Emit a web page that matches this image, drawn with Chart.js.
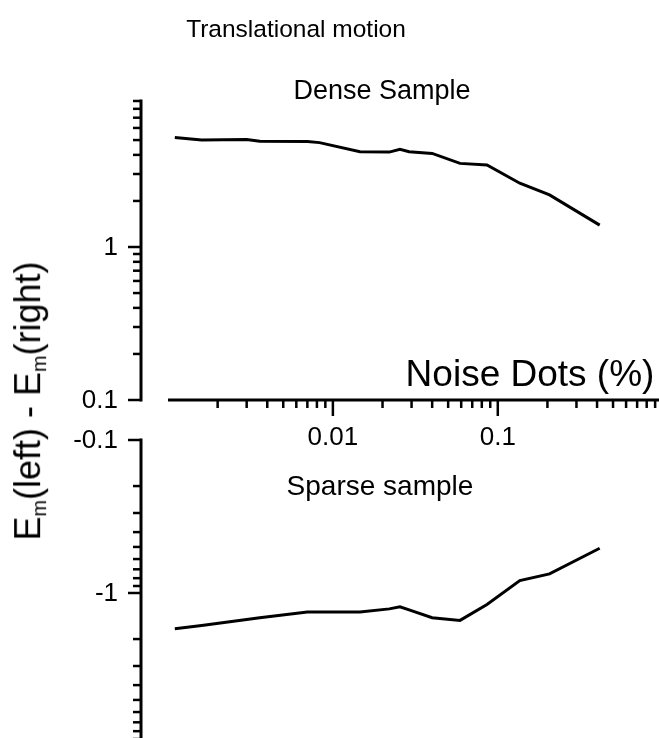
<!DOCTYPE html>
<html>
<head>
<meta charset="utf-8">
<script src="https://cdn.jsdelivr.net/npm/chart.js@4.4.1/dist/chart.umd.min.js"></script>
<style>
  body { margin: 0; background: #fff; }
  #wrap { position: relative; width: 659px; height: 738px; overflow: hidden; font-family: "Liberation Sans", Arial, sans-serif; color: #000; }
  .box { position: absolute; left: 0; width: 659px; }
  .lbl { position: absolute; white-space: nowrap; line-height: 1; transform: translate(-50%, -50%); }
  #yTitle { transform: translate(-50%, -50%) rotate(-90deg); }
  #yTitle sub { font-size: 55%; vertical-align: -0.3em; }
</style>
</head>
<body>
<div id="wrap">
  <div class="box" style="top:0;height:460px"><canvas id="denseChart"></canvas></div>
  <div class="box" style="top:420px;height:326px"><canvas id="sparseChart"></canvas></div>
  <div class="lbl" style="left:296px;top:29px;font-size:24.5px">Translational motion</div>
  <div class="lbl" style="left:382px;top:90px;font-size:27px">Dense Sample</div>
  <div class="lbl" style="left:530px;top:373px;font-size:37px">Noise Dots (%)</div>
  <div class="lbl" style="left:380px;top:486px;font-size:28px">Sparse sample</div>
  <div class="lbl" id="yTitle" style="left:30px;top:401px;font-size:36px">E<sub>m</sub>(left) - E<sub>m</sub>(right)</div>
</div>
<script>
// noise dots (%) along x
const noiseDots = [0.0011, 0.0016, 0.003, 0.0036, 0.007, 0.0083, 0.0146, 0.022, 0.0255, 0.029, 0.04, 0.059, 0.086, 0.136, 0.206, 0.415];
// Em(left) - Em(right)
const denseDiff = [5.2, 5.0, 5.05, 4.92, 4.9, 4.81, 4.2, 4.17, 4.35, 4.2, 4.09, 3.52, 3.44, 2.61, 2.19, 1.39];
const sparseDiff = [-1.71, -1.63, -1.49, -1.45, -1.33, -1.33, -1.33, -1.27, -1.23, -1.29, -1.45, -1.51, -1.19, -0.83, -0.75, -0.51];

const xMajorTicks = [0.01, 0.1];
const xMinorTicks = [0.002, 0.003, 0.004, 0.005, 0.006, 0.007, 0.008, 0.009,
    0.02, 0.03, 0.04, 0.05, 0.06, 0.07, 0.08, 0.09,
    0.2, 0.3, 0.4, 0.5, 0.6, 0.7, 0.8, 0.9];
const denseMajorTicks = [0.1, 1];
const denseMinorTicks = [0.2, 0.3, 0.4, 0.5, 0.6, 0.7, 0.8, 0.9, 2, 3, 4, 5, 6, 7, 8, 9];
const sparseMajorTicks = [-0.1, -1];
const sparseMinorTicks = [-0.2, -0.3, -0.4, -0.5, -0.6, -0.7, -0.8, -0.9, -2, -3, -4, -5, -6, -7, -8, -9];

const xMin = 0.001, xMax = 0.95;

// origin-style axes: y axis set off to the left of the plot, ticks drawn outward
const originAxes = {
    id: 'originAxes',
    afterDraw(chart, args, opts) {
        const { ctx, chartArea, scales: { x, y } } = chart;
        const sign = opts.negative ? -1 : 1;
        const yPix = v => y.getPixelForValue(v * sign);
        ctx.save();
        ctx.strokeStyle = '#000';
        ctx.fillStyle = '#000';
        ctx.lineCap = 'butt';

        // y axis
        const ax = chartArea.left - opts.gap;
        const yTop = Math.min(y.getPixelForValue(y.min), y.getPixelForValue(y.max));
        const yBot = Math.max(y.getPixelForValue(y.min), y.getPixelForValue(y.max));
        ctx.lineWidth = 3;
        ctx.beginPath();
        ctx.moveTo(ax, yTop - 1.5);
        ctx.lineTo(ax, yBot + 1.5);
        ctx.stroke();
        ctx.lineWidth = 2.5;
        opts.yMinor.forEach(v => {
            const p = yPix(v);
            ctx.beginPath(); ctx.moveTo(ax - 8, p); ctx.lineTo(ax, p); ctx.stroke();
        });
        ctx.font = '26px "Liberation Sans", Arial, sans-serif';
        ctx.textAlign = 'right';
        ctx.textBaseline = 'middle';
        opts.yMajor.forEach(v => {
            const p = yPix(v);
            ctx.beginPath(); ctx.moveTo(ax - 13, p); ctx.lineTo(ax, p); ctx.stroke();
            ctx.fillText(String(v), ax - 23, p + 1);
        });

        // x axis (top panel only)
        if (opts.showX) {
            const xa = chartArea.bottom;
            ctx.lineWidth = 3;
            ctx.beginPath();
            ctx.moveTo(chartArea.left, xa);
            ctx.lineTo(chartArea.right, xa);
            ctx.stroke();
            ctx.lineWidth = 2.5;
            xMinorTicks.forEach(v => {
                const p = x.getPixelForValue(v);
                ctx.beginPath(); ctx.moveTo(p, xa); ctx.lineTo(p, xa + 8); ctx.stroke();
            });
            ctx.textAlign = 'center';
            ctx.textBaseline = 'middle';
            xMajorTicks.forEach(v => {
                const p = x.getPixelForValue(v);
                ctx.beginPath(); ctx.moveTo(p, xa); ctx.lineTo(p, xa + 16); ctx.stroke();
                ctx.fillText(String(v), p, xa + 38);
            });
        }
        ctx.restore();
    }
};

function makeChart(id, values, yMin, yMax, padding, axisOpts) {
    const neg = axisOpts.negative;
    return new Chart(document.getElementById(id), {
        type: 'line',
        data: {
            datasets: [{
                data: noiseDots.map((n, i) => ({ x: n, y: neg ? -values[i] : values[i] })),
                borderColor: '#000',
                borderWidth: 3,
                pointRadius: 0,
                tension: 0,
                fill: false
            }]
        },
        options: {
            responsive: true,
            maintainAspectRatio: false,
            animation: false,
            layout: { padding: padding },
            plugins: {
                legend: { display: false },
                tooltip: { enabled: false },
                originAxes: axisOpts
            },
            scales: {
                x: { type: 'logarithmic', min: xMin, max: xMax, display: false },
                y: { type: 'logarithmic', min: yMin, max: yMax, reverse: !!neg, display: false }
            }
        },
        plugins: [originAxes]
    });
}

makeChart('denseChart', denseDiff, 0.1, 9, { left: 168, right: 0, top: 101, bottom: 60 }, {
    gap: 27, yMajor: denseMajorTicks, yMinor: denseMinorTicks, showX: true, negative: false
});
makeChart('sparseChart', sparseDiff, 0.1, 10, { left: 168, right: 0, top: 20, bottom: 0 }, {
    gap: 27, yMajor: sparseMajorTicks, yMinor: sparseMinorTicks, showX: false, negative: true
});
</script>
</body>
</html>
